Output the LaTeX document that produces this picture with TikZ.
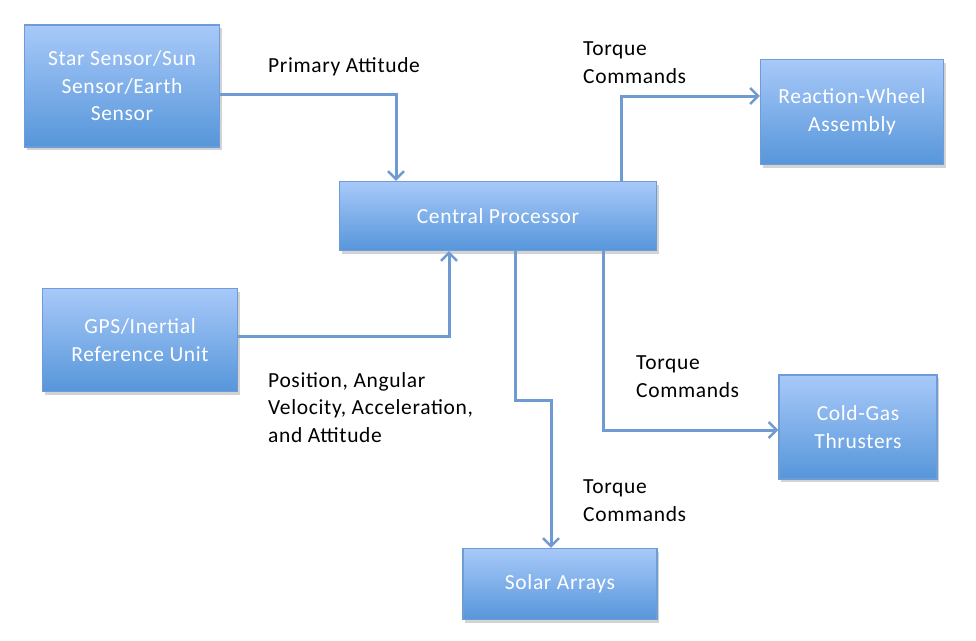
\documentclass[tikz,border=0pt]{standalone}
\usepackage{fontspec}
\setmainfont{Carlito}[LetterSpace=3]
\usepackage{xcolor}
\usetikzlibrary{arrows.meta, shadows}
\definecolor{boxtop}{RGB}{168,201,249}
\definecolor{boxbot}{RGB}{86,150,218}
\definecolor{boxline}{RGB}{110,156,214}
\definecolor{linkblue}{RGB}{112,155,210}

\tikzset{
  unit/.style={draw=boxline, line width=1.2pt, top color=boxtop, bottom color=boxbot,
    text=white, align=center, inner sep=2pt,
    drop shadow={shadow xshift=2pt, shadow yshift=-3pt, opacity=0.35}},
  link/.style={draw=linkblue, line width=3pt, -{Straight Barb[length=8pt, width=16pt, line width=2.5pt]}},
  note/.style={align=left, anchor=base west, inner sep=0pt, text=black}
}

\begin{document}
\begin{tikzpicture}[x=1pt, y=-1pt, font=\fontsize{21.5}{27.5}\selectfont]
\useasboundingbox (0,0) rectangle (976,640);

% units
\node[unit, minimum width=195pt, minimum height=122pt] (star) at (122,86) {Star Sensor/Sun\\Sensor/Earth\\Sensor};
\node[unit, minimum width=317pt, minimum height=69pt] (cp) at (498,216) {Central Processor};
\node[unit, minimum width=195pt, minimum height=103pt] (gps) at (140,340) {GPS/Inertial\\Reference Unit};
\node[unit, minimum width=183pt, minimum height=105pt] (rw) at (852,112) {Reaction-Wheel\\Assembly};
\node[unit, minimum width=158pt, minimum height=104pt] (cg) at (858,427) {Cold-Gas\\Thrusters};
\node[unit, minimum width=194pt, minimum height=71pt] (sa) at (560,584) {Solar Arrays};

% connectors
\draw[link] ([yshift=-8pt]star.east) -| ([xshift=-102pt]cp.north);
\draw[link] ([yshift=4pt]gps.east) -| ([xshift=-49pt]cp.south);
\draw[link] ([xshift=123pt]cp.north) |- ([yshift=16pt]rw.west);
\draw[link] ([xshift=105pt]cp.south) |- ([yshift=-3pt]cg.west);
\draw[link] ([xshift=17pt]cp.south) -- ++(0,149) -| ([xshift=-9pt]sa.north);

% labels (base = last line)
\node[note] (lprim) at (268,72) {Primary Attitude};
\node[note] (lrw) at (583,83) {Torque\\Commands};
\node[note] (lcg) at (636,397) {Torque\\Commands};
\node[note] (lsa) at (583,521) {Torque\\Commands};
\node[note] (lgps) at (268,442) {Position, Angular\\Velocity, Acceleration,\\and Attitude};
\end{tikzpicture}
\end{document}
